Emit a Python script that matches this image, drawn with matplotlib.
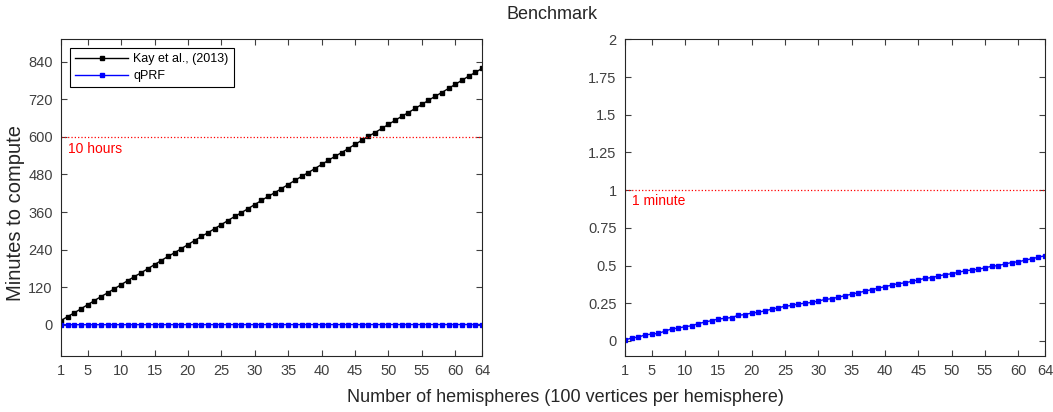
import numpy as np
import matplotlib.pyplot as plt

plt.rcParams['font.family'] = ['Liberation Sans', 'DejaVu Sans']

# number of hemispheres
hemis = list(range(1, 65))

# minutes to compute
kay_minutes = [13, 26, 38, 51, 64, 77, 90, 102, 115, 128,
               141, 154, 166, 179, 192, 205, 218, 230, 243, 256,
               269, 282, 294, 307, 320, 333, 346, 358, 371, 384,
               397, 410, 422, 435, 448, 461, 474, 486, 499, 512,
               525, 538, 550, 563, 576, 589, 602, 614, 627, 640,
               653, 666, 678, 691, 704, 717, 730, 742, 755, 768,
               781, 794, 806, 819]
qprf_minutes = [0.005, 0.02, 0.025, 0.04, 0.045, 0.05, 0.065, 0.08, 0.085, 0.095,
                0.1, 0.115, 0.125, 0.135, 0.145, 0.15, 0.155, 0.17, 0.175, 0.185,
                0.19, 0.2, 0.21, 0.22, 0.23, 0.235, 0.245, 0.25, 0.255, 0.265,
                0.275, 0.28, 0.29, 0.3, 0.31, 0.32, 0.33, 0.34, 0.35, 0.36,
                0.37, 0.38, 0.385, 0.395, 0.405, 0.415, 0.42, 0.43, 0.44, 0.445,
                0.455, 0.465, 0.47, 0.475, 0.485, 0.495, 0.5, 0.51, 0.52, 0.525,
                0.535, 0.545, 0.555, 0.565]
xticks = [1, 5, 10, 15, 20, 25, 30, 35, 40, 45, 50, 55, 60, 64]
left_yticks = [0, 120, 240, 360, 480, 600, 720, 840]
right_yticks = [0, 0.25, 0.5, 0.75, 1, 1.25, 1.5, 1.75, 2]
right_yticklabels = ['0', '0.25', '0.5', '0.75', '1', '1.25', '1.5', '1.75', '2']

tick_col = '#404040'


def style_axes(ax):
    ax.set_xlim(1, 64)
    ax.set_xticks(xticks)
    ax.tick_params(direction='in', top=True, right=True, length=4,
                   labelsize=10.5, colors=tick_col, width=0.8, pad=6)
    for s in ax.spines.values():
        s.set_color('#262626')
        s.set_linewidth(0.8)


fig = plt.figure(figsize=(10.53, 4.12), dpi=100)
ax1 = fig.add_axes([0.0579, 0.1359, 0.3998, 0.7687])
ax2 = fig.add_axes([0.5935, 0.1359, 0.3989, 0.7687])

ax1.plot(hemis, kay_minutes, color='black', marker='s', markersize=3.2, lw=1,
         label='Kay et al., (2013)')
ax1.plot(hemis, qprf_minutes, color='blue', marker='s', markersize=3.2, lw=1,
         label='qPRF')
ax1.axhline(600, color='red', ls=':', lw=0.9)
ax1.text(2, 585, '10 hours', color='red', fontsize=10, va='top')
ax1.set_ylim(-100, 912)
ax1.set_yticks(left_yticks)
style_axes(ax1)
ax1.set_ylabel('Minutes to compute', fontsize=14.5, color='#262626')
ax1.yaxis.set_label_coords(-0.085, 0.45)
leg = ax1.legend(loc='upper left', fontsize=9, fancybox=False, edgecolor='black',
                 framealpha=1, borderaxespad=0.7, handlelength=4.3, labelspacing=0.4,
                 handletextpad=0.4, markerscale=1)
leg.get_frame().set_linewidth(0.8)

ax2.plot(hemis, qprf_minutes, color='blue', marker='s', markersize=3.2, lw=1)
ax2.axhline(1, color='red', ls=':', lw=0.9)
ax2.text(2, 0.975, '1 minute', color='red', fontsize=10, va='top')
ax2.set_ylim(-0.1, 2)
ax2.set_yticks(right_yticks)
ax2.set_yticklabels(right_yticklabels)
style_axes(ax2)

fig.text(0.524, 0.966, 'Benchmark', ha='center', va='center', fontsize=13, color='#262626')
fig.text(0.5366, 0.034, 'Number of hemispheres (100 vertices per hemisphere)',
         ha='center', va='center', fontsize=13, color='#262626')

fig.savefig('out.png', dpi=100)
